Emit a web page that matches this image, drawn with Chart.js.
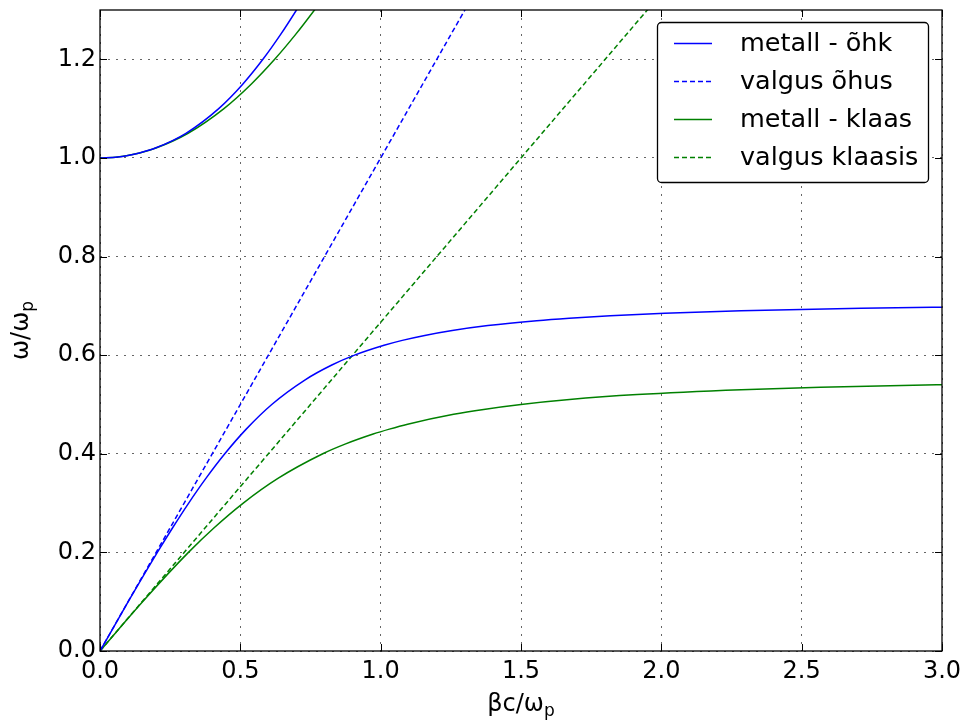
<!DOCTYPE html>
<html>
<head>
<meta charset="utf-8">
<script src="https://cdn.jsdelivr.net/npm/chart.js@4/dist/chart.umd.min.js"></script>
<style>
html,body{margin:0;padding:0;background:#fff;}
#wrap{width:967px;height:720px;position:relative;}
</style>
</head>
<body>
<div id="wrap"><canvas id="c" width="967" height="720"></canvas></div>
<script>
// ---- data (x = βc/ωp, y = ω/ωp) ----
const seriesLabels = ["metall - õhk", "valgus õhus", "metall - klaas", "valgus klaasis"];

const airLowerX = [0, 0.1005, 0.2043, 0.2588, 0.316, 0.3773, 0.4446, 0.521, 0.612, 0.731, 0.826, 0.907, 1.012, 1.077, 1.157, 1.255, 1.382, 1.556, 1.672, 1.818, 2.012, 2.284, 2.712, 2.967, 3.0];
const airLowerY = [0, 0.1, 0.2, 0.25, 0.3, 0.35, 0.4, 0.45, 0.5, 0.55, 0.58, 0.6, 0.62, 0.63, 0.64, 0.65, 0.66, 0.67, 0.675, 0.68, 0.685, 0.69, 0.695, 0.697, 0.6972];

const airUpperX = [0, 0.0632, 0.0996, 0.1404, 0.1972, 0.3062, 0.423, 0.5092, 0.5805, 0.6431, 0.700, 0.7215];
const airUpperY = [1.0, 1.002, 1.005, 1.01, 1.02, 1.05, 1.1, 1.15, 1.2, 1.25, 1.3, 1.32];

const glassLowerX = [0, 0.1517, 0.3151, 0.4067, 0.5104, 0.6339, 0.7937, 0.8753, 0.9733, 1.031, 1.096, 1.260, 1.367, 1.5, 1.673, 1.914, 2.285, 2.567, 2.981, 3.0];
const glassLowerY = [0, 0.1, 0.2, 0.25, 0.3, 0.35, 0.4, 0.42, 0.44, 0.45, 0.46, 0.48, 0.49, 0.5, 0.51, 0.52, 0.53, 0.535, 0.54, 0.5401];

const glassUpperX = [0, 0.0632, 0.1412, 0.1993, 0.3137, 0.4416, 0.5394, 0.6224, 0.6964, 0.7642, 0.790];
const glassUpperY = [1.0, 1.002, 1.01, 1.02, 1.05, 1.1, 1.15, 1.2, 1.25, 1.3, 1.32];

const lightAirX = [0, 3.0];
const lightAirY = [0, 3.0];
const lightGlassX = [0, 3.0];
const lightGlassY = [0, 2.0];

const xTicks = [0.0, 0.5, 1.0, 1.5, 2.0, 2.5, 3.0];
const yTicks = [0.0, 0.2, 0.4, 0.6, 0.8, 1.0, 1.2];

function pts(xs, ys){ return xs.map((x,i)=>({x:x, y:ys[i]})); }

const BLUE = '#0000ff', GREEN = '#008000';
const FONT = '"DejaVu Sans", sans-serif';
const FSIZE = 24;
const LFSIZE = 25.5;

function ds(label, xs, ys, color, dashed, inLegend){
  return {label, data: pts(xs, ys), borderColor: color, backgroundColor: color,
    borderWidth: 1.5, borderDash: dashed ? [5,3] : [], showLine: true, pointRadius: 0,
    pointHoverRadius: 0, cubicInterpolationMode: 'monotone', fill: false, inLegend: inLegend};
}

const datasets = [
  ds(seriesLabels[0], airLowerX, airLowerY, BLUE, false, true),
  ds(seriesLabels[1], lightAirX, lightAirY, BLUE, true, true),
  ds(seriesLabels[2], glassLowerX, glassLowerY, GREEN, false, true),
  ds(seriesLabels[3], lightGlassX, lightGlassY, GREEN, true, true),
  ds(seriesLabels[0], airUpperX, airUpperY, BLUE, false, false),
  ds(seriesLabels[2], glassUpperX, glassUpperY, GREEN, false, false)
];

const TICKLEN = 7;

const framePlugin = {
  id: 'frame',
  afterDatasetsDraw(chart){
    const ctx = chart.ctx, a = chart.chartArea;
    const xs = chart.scales.x, ys = chart.scales.y;
    ctx.save();
    ctx.strokeStyle = '#000';
    ctx.lineWidth = 1.3;
    ctx.setLineDash([]);
    ctx.strokeRect(a.left, a.top, a.right - a.left, a.bottom - a.top);
    ctx.lineWidth = 1;
    ctx.beginPath();
    xTicks.forEach(v => {
      const px = Math.round(xs.getPixelForValue(v)) + 0.5;
      ctx.moveTo(px, a.bottom); ctx.lineTo(px, a.bottom - TICKLEN);
      ctx.moveTo(px, a.top); ctx.lineTo(px, a.top + TICKLEN);
    });
    yTicks.forEach(v => {
      const py = Math.round(ys.getPixelForValue(v)) + 0.5;
      ctx.moveTo(a.left, py); ctx.lineTo(a.left + TICKLEN, py);
      ctx.moveTo(a.right, py); ctx.lineTo(a.right - TICKLEN, py);
    });
    ctx.stroke();

    // legend box
    const bx = 657.5, by = 22.5, bw = 271, bh = 160, r = 4;
    ctx.fillStyle = '#fff';
    ctx.beginPath();
    ctx.moveTo(bx + r, by);
    ctx.lineTo(bx + bw - r, by); ctx.arcTo(bx + bw, by, bx + bw, by + r, r);
    ctx.lineTo(bx + bw, by + bh - r); ctx.arcTo(bx + bw, by + bh, bx + bw - r, by + bh, r);
    ctx.lineTo(bx + r, by + bh); ctx.arcTo(bx, by + bh, bx, by + bh - r, r);
    ctx.lineTo(bx, by + r); ctx.arcTo(bx, by, bx + r, by, r);
    ctx.closePath();
    ctx.fill();
    ctx.lineWidth = 1.3;
    ctx.strokeStyle = '#000';
    ctx.stroke();

    const rowsY = [43, 81, 119, 157];
    ctx.font = LFSIZE + 'px ' + FONT;
    ctx.textBaseline = 'middle';
    ctx.textAlign = 'left';
    chart.data.datasets.filter(d => d.inLegend).forEach((d, i) => {
      const y = rowsY[i];
      ctx.strokeStyle = d.borderColor;
      ctx.lineWidth = 1.5;
      ctx.setLineDash(d.borderDash);
      ctx.beginPath();
      ctx.moveTo(674, y + 0.5); ctx.lineTo(712, y + 0.5);
      ctx.stroke();
      ctx.setLineDash([]);
      ctx.fillStyle = '#000';
      ctx.fillText(d.label, 740, y + 1);
    });

    // axis titles with subscript
    function drawSub(main, sub, cx, cy){
      ctx.font = FSIZE + 'px ' + FONT;
      const w1 = ctx.measureText(main).width;
      ctx.font = '17px ' + FONT;
      const w2 = ctx.measureText(sub).width;
      const start = cx - (w1 + w2) / 2;
      ctx.textAlign = 'left';
      ctx.textBaseline = 'alphabetic';
      ctx.fillStyle = '#000';
      ctx.font = FSIZE + 'px ' + FONT;
      ctx.fillText(main, start, cy);
      ctx.font = '17px ' + FONT;
      ctx.fillText(sub, start + w1, cy + 5);
    }
    drawSub('βc/ω', 'p', (a.left + a.right) / 2, 711);
    ctx.save();
    ctx.translate(28, (a.top + a.bottom) / 2);
    ctx.rotate(-Math.PI / 2);
    drawSub('ω/ω', 'p', 0, 0);
    ctx.restore();
    ctx.restore();
  }
};

new Chart(document.getElementById('c'), {
  type: 'scatter',
  data: { datasets },
  plugins: [framePlugin],
  options: {
    responsive: false,
    animation: false,
    devicePixelRatio: 1,
    layout: { padding: { left: 0, top: 10, right: 25, bottom: 0 } },
    plugins: { legend: { display: false }, tooltip: { enabled: false } },
    scales: {
      x: {
        type: 'linear', min: 0, max: 3,
        afterBuildTicks: s => { s.ticks = xTicks.map(v => ({value: v})); },
        afterFit: s => { s.height = 69; s.paddingLeft = 0; s.paddingRight = 0; },
        grid: { color: 'rgba(0,0,0,0.6)', lineWidth: 1, drawTicks: false },
        border: { display: false, dash: [2,6] },
        ticks: { color: '#000', font: { family: FONT, size: FSIZE }, padding: 6, maxRotation: 0,
          callback: v => Number(v).toFixed(1) }
      },
      y: {
        type: 'linear', min: 0, max: 1.3,
        afterBuildTicks: s => { s.ticks = yTicks.map(v => ({value: v})); },
        afterFit: s => { s.width = 100; s.paddingTop = 0; s.paddingBottom = 0; },
        grid: { color: 'rgba(0,0,0,0.6)', lineWidth: 1, drawTicks: false },
        border: { display: false, dash: [2,6] },
        ticks: { color: '#000', font: { family: FONT, size: FSIZE }, padding: 4,
          callback: v => Number(v).toFixed(1) }
      }
    }
  }
});
</script>
</body>
</html>
